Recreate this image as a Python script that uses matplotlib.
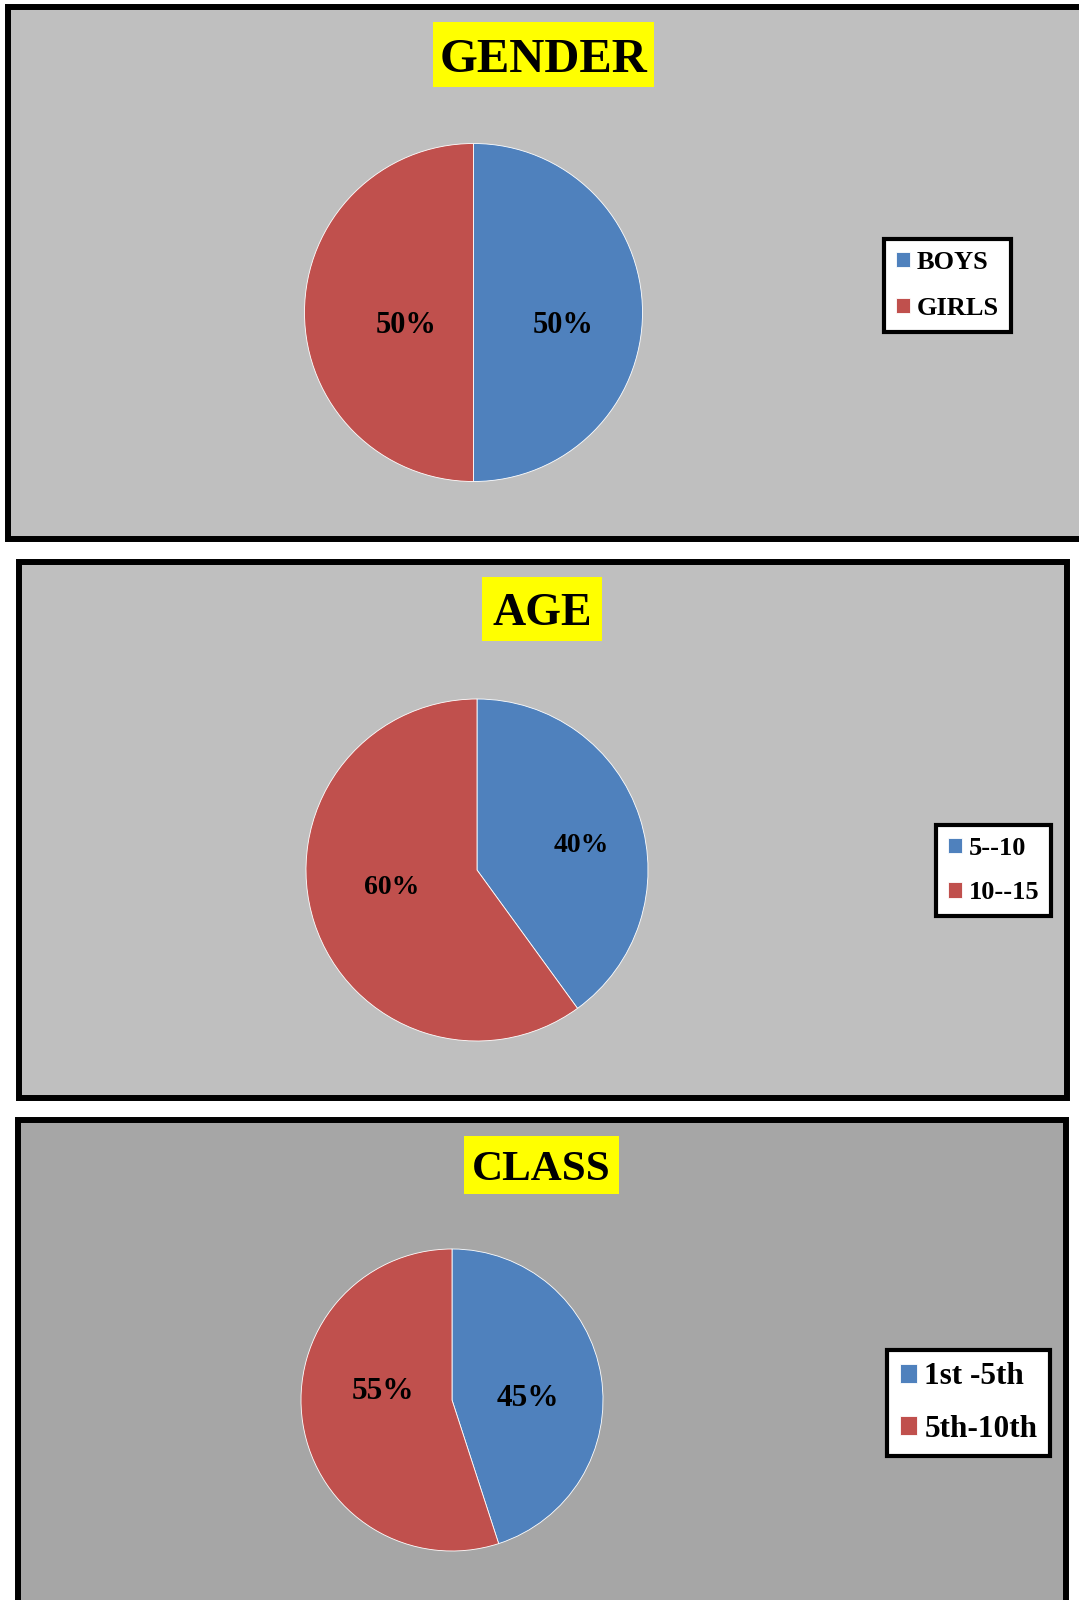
import matplotlib
matplotlib.use("Agg")
import matplotlib.pyplot as plt
from matplotlib.patches import Rectangle

# ---- data ----
gender_labels = ["BOYS", "GIRLS"]
gender_values = [50, 50]
age_labels = ["5--10", "10--15"]
age_values = [40, 60]
class_labels = ["1st -5th", "5th-10th"]
class_values = [45, 55]
titles = ["GENDER", "AGE", "CLASS"]

# ---- style ----
W, H = 1079, 1600
DPI = 100
BLUE = "#4F81BD"
RED = "#C0504D"
FONT = "Liberation Serif"

fig = plt.figure(figsize=(W / DPI, H / DPI), dpi=DPI)
fig.patch.set_facecolor("white")


def fx(x):
    return x / W


def fy(y):
    return 1 - y / H


def panel(x0, y0, x1, y1, fc):
    r = Rectangle((fx(x0), fy(y1)), fx(x1) - fx(x0), fy(y0) - fy(y1),
                  transform=fig.transFigure, facecolor=fc, edgecolor="black",
                  linewidth=4.3, zorder=0, clip_on=False)
    fig.add_artist(r)


def title_box(x0, y0, x1, y1, text, size):
    r = Rectangle((fx(x0), fy(y1)), fx(x1) - fx(x0), fy(y0) - fy(y1),
                  transform=fig.transFigure, facecolor="#FFFF00",
                  edgecolor="none", zorder=1)
    fig.add_artist(r)
    fig.text(fx((x0 + x1) / 2), fy((y0 + y1) / 2 + 5), text, ha="center",
             va="center", fontsize=size, fontweight="bold", family=FONT,
             color="black", zorder=2)


# panels
panel(8, 7, 1090, 539, "#BFBFBF")
panel(18.5, 561.5, 1066.5, 1098, "#BFBFBF")
panel(18, 1120, 1066, 1640, "#A6A6A6")

title_box(433, 22, 654, 87, titles[0], 35)
title_box(482, 577, 602, 641, titles[1], 33)
title_box(464, 1136, 619, 1194, titles[2], 31)


def pie_chart(cx, cy, r, values, labels, pct_size, label_xy,
              leg_anchor, leg_fs, leg_hl, leg_ls, leg_bp):
    ax = fig.add_axes([fx(cx - r), fy(cy + r), 2 * r / W, 2 * r / H])
    wedges, texts, autotexts = ax.pie(
        values, colors=[BLUE, RED], startangle=90, counterclock=False,
        autopct="%1.0f%%", pctdistance=0.5, radius=1,
        wedgeprops=dict(edgecolor="white", linewidth=0.6),
        textprops=dict(fontsize=pct_size, fontweight="bold", family=FONT,
                       color="black"))
    for t, (lx, ly) in zip(autotexts, label_xy):
        t.set_position((lx, ly))
        t.set_ha("center")
        t.set_va("center")
    ax.set_xlim(-1, 1)
    ax.set_ylim(-1, 1)
    ax.set_aspect("equal")
    ax.axis("off")
    leg = fig.legend(wedges, labels, loc="upper left",
                     bbox_to_anchor=(fx(leg_anchor[0]), fy(leg_anchor[1])),
                     bbox_transform=fig.transFigure,
                     prop=dict(family=FONT, weight="bold", size=leg_fs),
                     frameon=True, fancybox=False, shadow=False,
                     handlelength=leg_hl, handleheight=leg_hl,
                     handletextpad=0.25, labelspacing=leg_ls,
                     borderpad=leg_bp, borderaxespad=0)
    fr = leg.get_frame()
    fr.set_edgecolor("black")
    fr.set_linewidth(3)
    fr.set_facecolor("white")
    fr.set_alpha(1)
    return ax


pie_chart(473.5, 312.5, 169, gender_values, gender_labels, 22,
          [(0.53, -0.078), (-0.40, -0.078)],
          (884, 239), 19, 0.55, 0.87, 0.45)
pie_chart(477, 870, 171, age_values, age_labels, 20,
          [(0.61, 0.142), (-0.50, -0.10)],
          (936, 825), 19, 0.55, 0.8, 0.45)
pie_chart(452, 1400, 151, class_values, class_labels, 22.5,
          [(0.50, 0.01), (-0.457, 0.053)],
          (887, 1350), 22.5, 0.55, 0.74, 0.4)

fig.savefig("out.png", dpi=DPI)
